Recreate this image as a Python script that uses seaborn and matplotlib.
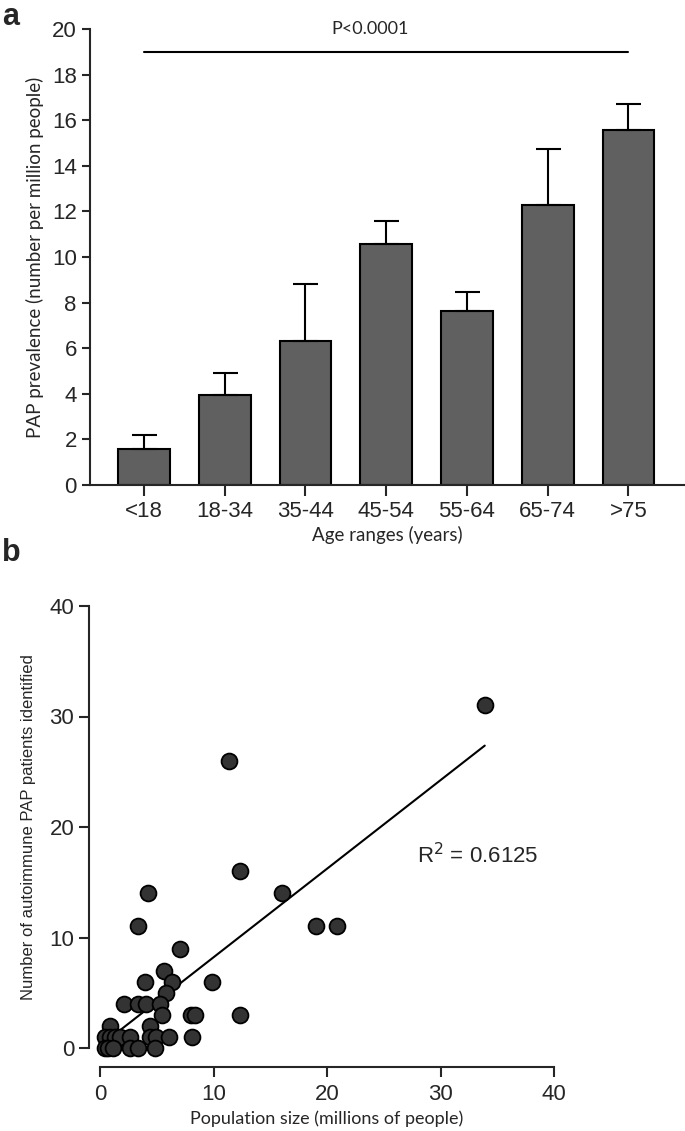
import numpy as np
import pandas as pd
import matplotlib.pyplot as plt
import seaborn as sns

# --- dados do painel a (barras) ---
faixas_etarias = ['<18', '18-34', '35-44', '45-54', '55-64', '65-74', '>75']
prevalencia = [1.6, 3.95, 6.3, 10.55, 7.65, 12.3, 15.55]
erro_sup = [0.6, 0.95, 2.5, 1.05, 0.8, 2.45, 1.15]

# --- dados do painel b (dispersão) ---
populacao = [33.9, 11.4, 12.3, 4.24, 16.0, 3.36, 19.0, 20.9, 7.02, 5.61,
             3.95, 6.32, 9.88, 5.85, 2.13, 3.36, 4.04, 5.26, 5.47, 8.04,
             8.33, 12.3, 0.88, 4.39,
             0.44, 0.88, 1.32, 1.75, 2.63, 4.39, 4.97, 6.08, 8.13,
             0.44, 0.73, 1.17, 2.63, 3.36, 4.82]
pacientes = [31, 26, 16, 14, 14, 11, 11, 11, 9, 7,
             6, 6, 6, 5, 4, 4, 4, 4, 3, 3,
             3, 3, 2, 2,
             1, 1, 1, 1, 1, 1, 1, 1, 1,
             0, 0, 0, 0, 0, 0]

sns.set_style("ticks")
plt.rcParams['font.family'] = ['Liberation Sans', 'DejaVu Sans']
plt.rcParams['axes.linewidth'] = 1.5

fonte_calibri = ['Lato', 'DejaVu Sans']

W, H = 685, 1131
fig = plt.figure(figsize=(W / 100, H / 100), dpi=100)

# ---------------- painel a ----------------
ax1 = fig.add_axes([90 / W, 1 - 485 / H, 595 / W, 456 / H])
sns.barplot(x=faixas_etarias, y=prevalencia, color='#606060', edgecolor='black',
            linewidth=1.5, width=0.64, ax=ax1, saturation=1)
pos = np.arange(len(faixas_etarias))
ax1.errorbar(pos, prevalencia, yerr=[np.zeros(len(erro_sup)), erro_sup], fmt='none',
             ecolor='black', elinewidth=1.5, capsize=9, capthick=1.5, zorder=1)
ax1.set_xlim(-0.668, 6.70)
ax1.set_ylim(0, 20)
ax1.set_yticks(range(0, 21, 2))
ax1.plot([0, 6], [19, 19], color='black', lw=1.5)
ax1.text(2.8, 20, 'P<0.0001', ha='center', va='center', fontsize=13,
         family=fonte_calibri, clip_on=False)
sns.despine(ax=ax1)
ax1.tick_params(axis='y', length=6, width=1.5, labelsize=16)
ax1.tick_params(axis='x', length=8, width=1.5, labelsize=16)
ax1.set_xlabel('Age ranges (years)', fontsize=13.5, family=fonte_calibri, labelpad=3)
ax1.set_ylabel('PAP prevalence (number per million people)', fontsize=13.5,
               family=fonte_calibri, labelpad=6)
fig.text(2 / W, 1 - 2 / H, 'a', fontsize=22, fontweight='bold', va='top')

# ---------------- painel b ----------------
ax2 = fig.add_axes([100 / W, 1 - 1048 / H, 454 / W, 442 / H])
sns.regplot(x=populacao, y=pacientes, scatter=False, ci=None, truncate=True,
            line_kws={'color': 'black', 'lw': 1.5}, ax=ax2)
sns.scatterplot(x=populacao, y=pacientes, s=130, color='#333333', edgecolor='black',
                linewidth=1.3, ax=ax2, zorder=3, clip_on=False)
ax2.set_xlim(0, 40)
ax2.set_ylim(0, 40)
ax2.set_xticks(range(0, 41, 10))
ax2.set_yticks(range(0, 41, 10))
sns.despine(ax=ax2)
ax2.spines['left'].set_position(('outward', 8))
ax2.spines['bottom'].set_position(('outward', 14))
ax2.tick_params(length=7, width=1.5, labelsize=16)
ax2.tick_params(axis='x', pad=5)
ax2.text(27.9, 17.4, r'R$^2$ = 0.6125', fontsize=16, va='center', ha='left')
ax2.set_xlabel('Population size (millions of people)', fontsize=13,
               family=fonte_calibri, labelpad=4)
ax2.set_ylabel('Number of autoimmune PAP patients identified', fontsize=12, labelpad=10)
fig.text(2 / W, 1 - 538 / H, 'b', fontsize=22, fontweight='bold', va='top')

fig.savefig('out.png', dpi=100)
